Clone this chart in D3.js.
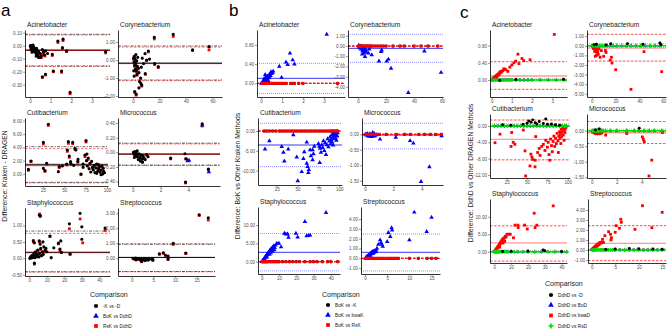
<!DOCTYPE html>
<html><head><meta charset="utf-8">
<script src="https://cdn.jsdelivr.net/npm/d3@7"></script>
<style>
body{margin:0;background:#fff}
svg{display:block}
text{font-family:"Liberation Sans",Arial,Helvetica,sans-serif}
</style>
</head><body>
<svg id="chart" width="669" height="330"></svg>
<script>
// ================= DATA =================
const facetNames = ["Acinetobacter","Corynebacterium","Cutibacterium","Micrococcus","Staphylococcus","Streptococcus"];
const aLegend = ["-K vs -D","BoK vs DdhD","RsK vs DdhD"];
const bLegend = ["BoK vs -K","BoK vs bwaK","BoK vs RsK"];
const cLegend = ["DdhD vs -D","DdhD vs BoD","DdhD vs bwaD","DdhD vs RsD"];
const aTitle = "Difference: Kraken - DRAGEN";
const bTitle = "Difference: BoK vs Other Kraken Methods";
const cTitle = "Difference: DdhD vs Other DRAGEN Methods";

const xTicks = [[0,1,2,3],[0,20,40,60],[25,50,75,100],[0,2,4],[0,10,20,30,40],[0,5,10,15]];
const aYTicks = [[0.1,0,-0.1,-0.2,-0.3],[1,0,-1,-2],[0,2,4,6,8],[0.4,0.2,0,-0.2,-0.4],[1,0.5,0,-0.5],[3,2,1,0]];
const bYTicks = [[0.8,0.4,0],[1,0,-1,-2,-3,-4],[0,-5,-10],[0,-0.5,-1,-1.5],[10,5,0],[4,3,2,1,0,-1]];
const cYTicks = [[0.8,0.4,0],[1,0,-1,-2,-3,-4,-5],[0,-4,-8,-12],[0,-0.5,-1,-1.5],[10,5,0],[4,3,2,1,0,-1]];

// ---- panel a : [mean, difference] ----
const a1K = [[0.02,0.0],[0.05,-0.01],[0.08,0.0],[0.1,-0.02],[0.12,-0.005],[0.15,-0.03],[0.18,-0.01],[0.2,-0.04],[0.22,-0.02],[0.25,-0.05],[0.28,-0.03],[0.3,-0.06],[0.32,-0.02],[0.35,-0.07],[0.38,-0.04],[0.4,-0.08],[0.42,-0.05],[0.45,-0.09],[0.5,-0.06],[0.55,-0.08],[0.6,-0.03],[0.65,-0.05],[0.7,-0.07],[0.75,-0.04],[0.05,-0.03],[0.1,-0.05],[0.15,0.005],[0.3,-0.08],[0.5,-0.09],[0.85,-0.06],[0.6,-0.24],[0.75,-0.22],[1.08,-0.066],[1.13,-0.195],[1.35,0.036],[1.57,-0.015],[1.6,0.05],[1.53,-0.195],[1.77,-0.04],[1.94,-0.36],[3.66,-0.046]];
const a1Rs = [[0.03,-0.01],[0.08,-0.02],[0.12,-0.01],[0.18,-0.03],[0.22,-0.045],[0.28,-0.04],[0.33,-0.07],[0.4,-0.09],[0.45,-0.06],[0.55,-0.09],[0.62,-0.07],[0.72,-0.08],[0.6,-0.245],[0.75,-0.225],[1.08,-0.075],[1.13,-0.2],[1.35,0.025],[1.6,0.04],[1.53,-0.205],[1.77,-0.045],[1.94,-0.37],[3.66,-0.055],[1.57,-0.025]];
const a2K = [[0.5,0.1],[0.8,-0.1],[1.0,0.2],[1.2,-0.3],[1.5,0.05],[1.8,-0.5],[2.0,-0.2],[2.2,0.3],[2.5,-0.6],[2.8,-0.05],[3.0,-0.8],[3.3,-0.35],[3.6,0.15],[4.0,-0.45],[4.5,-0.7],[1.3,-1.75],[2.4,-1.9],[0.6,-0.6],[0.9,-0.9],[1.6,-0.15],[5.0,-1.2],[5.8,-1.0],[6.0,-1.3],[6.6,-1.4],[4.5,-1.55],[6.3,-0.4],[7.0,0.1],[9.3,-0.75],[9.1,0.35],[10.3,0.0],[11.6,0.5],[16.4,-0.2],[19.1,-0.37],[16.1,1.26],[30.4,1.43],[45,0.56],[57.4,0.74],[8.0,-0.2],[12.5,0.05]];
const a2Rs = [[16.1,1.17],[30.4,1.31],[57.4,0.56],[45,0.53],[19.1,-0.42],[1.3,-1.8],[2.4,-1.95],[0.5,0.05],[1.0,0.15],[1.8,-0.55],[2.5,-0.65],[3.0,-0.85],[4.0,-0.5],[5.8,-1.05],[6.6,-1.45],[9.3,-0.8],[11.6,0.45],[10.3,-0.05],[2.0,-0.25],[3.3,-0.4],[1.2,-0.35],[16.4,-0.25]];
const a3K = [[7.8,0.7],[10.9,1.95],[25.4,4.75],[31.2,7.45],[25.4,0.85],[27.3,0.5],[29.3,1.6],[43,0.35],[44,1.1],[47.7,1.2],[52.8,1.5],[53.5,3.6],[54.7,4.85],[55.8,2.7],[57.3,1.85],[59.8,4.75],[62.5,3.85],[63.5,3.6],[65.8,1.9],[69.5,0.0],[74.2,2.85],[75.4,5.0],[58,1.5],[61,1.3],[66,2.2],[72,1.0],[76,2.0],[77,1.2],[78,2.4],[79,0.8],[80,1.6],[81,0.3],[82,1.9],[83,1.0],[84,0.6],[85,1.3],[86,0.2],[87,0.9],[88,1.5],[89,0.4],[90,0.8],[91,1.1],[92,0.3],[93,0.6],[94,1.2],[95,0.0],[95.7,0.85],[96,0.4],[97,0.2],[93,-0.1],[88,0.1],[90,1.4],[76.5,3.0],[72,1.5]];
const a3Rs = [[7.8,0.55],[10.9,1.85],[25.4,4.5],[31.2,7.3],[27.3,0.4],[29.3,1.45],[53.5,3.4],[54.7,4.6],[55.8,2.5],[59.8,4.55],[62.5,3.7],[75.4,4.8],[74.2,2.6],[69.5,-0.1],[44,0.95],[52.8,1.35],[57.3,1.7],[65.8,1.75],[80,1.45],[85,1.15],[88,1.35],[90,0.65],[94,1.05],[96,0.25],[78,2.2],[83,0.85]];
const a4K = [[0.05,0.0],[0.1,-0.02],[0.15,0.01],[0.2,-0.04],[0.25,-0.01],[0.3,-0.06],[0.35,-0.03],[0.4,-0.1],[0.45,-0.02],[0.5,-0.07],[0.55,-0.12],[0.6,-0.04],[0.65,-0.09],[0.7,-0.13],[0.75,-0.05],[0.8,-0.08],[0.9,-0.1],[1.0,-0.03],[1.1,-0.06],[0.12,-0.07],[0.32,0.02],[2.73,-0.08],[3.76,-0.02],[3.8,-0.41],[5.0,0.39],[5.44,-0.23],[3.85,-0.09]];
const a4Bo = [[3.95,-0.12],[4.05,-0.11],[5.0,0.37],[5.48,-0.27]];
const a4Rs = [[0.1,-0.03],[0.2,-0.05],[0.35,-0.04],[0.45,-0.1],[0.6,-0.05],[0.7,-0.14],[0.8,-0.09],[1.0,-0.04],[3.8,-0.09],[3.8,-0.42],[5.0,0.36],[5.44,-0.24],[2.73,-0.09]];
const a5K = [[0.3,0.0],[0.6,0.02],[0.9,0.05],[1.2,0.01],[1.5,0.08],[1.8,0.03],[2.1,0.1],[2.4,0.05],[2.7,0.15],[3.0,0.02],[3.3,0.08],[3.6,0.2],[3.9,0.04],[4.2,0.12],[4.5,0.06],[4.8,0.25],[5.1,0.1],[5.5,0.04],[6.0,0.15],[6.5,0.3],[7.0,0.08],[7.5,0.2],[8.0,0.12],[9,0.25],[10,0.2],[2.9,-0.15],[2.3,0.54],[2.9,0.47],[5.7,0.53],[6.2,0.43],[8.3,0.35],[11.8,0.68],[16.6,0.46],[18,0.53],[17.5,0.28],[18.3,0.18],[23.3,0.13],[12.5,0.02],[14,0.32],[5.7,1.32],[6.2,1.28],[22.9,1.05],[29,1.37],[30,0.96],[30,0.58],[43.3,0.92],[9.5,0.3],[7.8,0.5]];
const a5Rs = [[5.9,1.35],[6.4,1.3],[22.9,0.9],[29,1.2],[30.5,0.47],[43.3,0.85],[11.8,0.66],[16.6,0.44],[18.3,0.18],[2.3,0.5],[5.7,0.5],[3.6,0.18],[4.8,0.22],[6.5,0.27],[9,0.22],[2.9,-0.18],[23.3,0.12],[17.5,0.22]];
const a6K = [[0.3,0.0],[0.6,-0.03],[0.9,0.02],[1.2,-0.05],[1.5,-0.02],[1.8,-0.06],[2.1,-0.03],[2.3,-0.2],[2.6,-0.08],[2.9,-0.04],[3.2,-0.1],[3.5,-0.05],[3.8,-0.12],[4.1,-0.06],[4.8,-0.05],[4.9,-0.1],[6.4,0.3],[7.3,0.37],[7.8,0.2],[8.4,0.15],[8.4,-0.05],[9.6,1.0],[12.5,0.35],[15.6,2.9],[17.7,2.7],[1.0,-0.1],[2.0,-0.12],[3.0,-0.15]];
const a6Rs = [[15.6,2.85],[17.7,2.55],[9.6,0.92],[12.5,0.32],[7.3,0.33],[6.4,0.27],[4.8,-0.08],[4.9,-0.14],[3.2,-0.13],[2.3,-0.23],[8.4,-0.08],[1.5,-0.05],[0.6,-0.06]];
// mean, upper limit, lower limit
const aLimK  = [[-0.033,0.088,-0.155],[-0.17,0.78,-1.11],[1.45,4.1,-1.25],[-0.023,0.125,-0.175],[0.185,0.83,-0.41],[0.06,0.93,-0.88]];
const aLimRs = [[-0.037,0.083,-0.16],[-0.2,0.72,-1.15],[1.25,3.8,-1.33],[-0.027,0.115,-0.18],[0.17,0.76,-0.42],[0.05,0.97,-0.9]];

// ---- panel b ----
const b1Bwa = [[0.02,0.0],[0.05,0.01],[0.08,0.03],[0.1,0.02],[0.12,0.05],[0.15,0.04],[0.18,0.08],[0.2,0.06],[0.22,0.1],[0.25,0.07],[0.28,0.12],[0.3,0.09],[0.32,0.15],[0.35,0.11],[0.38,0.17],[0.4,0.13],[0.42,0.18],[0.45,0.16],[0.48,0.24],[0.5,0.2],[0.55,0.22],[0.58,0.25],[0.2,0.18],[0.25,0.14],[0.15,0.1],[0.35,0.05],[0.3,0.02],[0.87,0.35],[0.98,0.12],[1.19,0.44],[1.27,0.39],[1.38,0.625],[1.51,0.485],[1.59,0.4],[3.13,1.02]];
const b1Rs = [[0.05,0],[0.1,0],[0.15,0],[0.2,0],[0.25,0],[0.3,0],[0.35,0],[0.4,0],[0.5,0],[0.6,0],[0.7,0],[0.8,0],[0.9,0],[1.0,0],[1.1,0],[1.2,0],[1.4,0],[1.5,0],[1.6,0],[1.8,0],[2.0,0],[3.65,0]];
const b2Bwa = [[0.5,0.05],[1.0,-0.05],[1.5,0.0],[2.0,-0.1],[2.5,-0.2],[3.0,-0.15],[3.5,-0.3],[4.0,-0.4],[4.5,-0.25],[5.0,-0.55],[5.5,-0.35],[6.0,-0.6],[1.2,-0.2],[2.2,-0.3],[3.2,-0.5],[4.2,-0.7],[5,-1.05],[7.4,-0.7],[9.8,-0.88],[15,-1.48],[16.9,-0.4],[16.5,-0.55],[20.5,-1.5],[21.7,-1.3],[23.6,-2.2],[35.9,-4.58],[47.4,-0.5],[59.3,-2.6],[8,-0.3],[3,-0.8]];
const b2Rs = [[0.5,0],[1,0],[1.5,0],[2,0],[2.5,0],[3,0],[4,0],[5,0],[6,0],[7,0],[8,0],[9,0],[10,0],[12,0],[14,0],[16,0],[18,0],[20,0],[25,0],[30,0],[33,0],[40,0],[45,0],[50,0],[57,0]];
const b3Bwa = [[11,-4.6],[16.2,-2.5],[31,-3.95],[33,-5.4],[34.1,-7.6],[38.8,-4.6],[44.9,-1.0],[49,-6.6],[50.2,-12.6],[55,-10.3],[57,-7],[58,-5.3],[61,-2.85],[61,-8.2],[62,-9.0],[62.9,-10.5],[63.5,-9.8],[65,-4.8],[66,-6.3],[68,-4.8],[69,-5.8],[70,-3.9],[68,-7.3],[75,-3.2],[76,-3.9],[77,-4.4],[78,-5.4],[76.5,-8.0],[79,-3.5],[80,-4.2],[81,-2.5],[82,-5.0],[83,-3.0],[84,-6.0],[85,-3.5],[86,-2.0],[87,-4.0],[88,-2.6],[89,-1.5],[89.5,-3.3],[90,-2.2],[91,-1.0],[91.5,-2.8],[92,-1.6],[93,-0.6],[93.5,-2.0],[94,-1.2],[95,-0.4],[95.5,-1.8],[96,-0.8],[97,-0.3],[97.5,-1.3],[98,-0.5],[96.5,-2.4],[92.5,-3.6],[94.5,-0.9]];
const b3Rs = [[10,0],[13,0],[16,0],[20,0],[24,0],[28,0],[31,0],[34,0],[37,0],[40,0],[43,0],[46,0],[49,0],[52,0],[55,0],[58,0],[61,0],[64,0],[67,0],[70,0],[73,0],[76,0],[79,0],[82,0],[85,0],[88,0],[90,0],[92,0],[94,0],[96,0],[98,0]];
const b4Bwa = [[0.05,0.0],[0.1,-0.03],[0.15,0.02],[0.2,-0.05],[0.25,-0.02],[0.3,-0.07],[0.35,0.01],[0.4,-0.04],[0.45,-0.08],[0.5,-0.03],[0.55,0.05],[0.6,-0.06],[0.65,0.02],[0.7,-0.05],[0.8,-0.02],[1.06,-0.16],[2.17,-0.1],[3.18,-0.21],[3.41,-0.29],[3.95,-1.53],[4.54,-1.05],[5.4,-0.05]];
const b4Rs = [[0.05,0],[0.1,0],[0.2,0],[0.3,0],[0.4,0],[0.5,0],[0.6,0],[0.7,0],[0.8,0],[1.0,0],[1.5,0],[2.2,0],[2.8,0],[3.2,0],[3.8,0],[4.2,0],[4.6,0],[5.0,0],[5.4,0]];
const b5Bwa = [[0.2,0.0],[0.5,0.2],[0.8,0.4],[1.0,0.5],[1.3,0.7],[1.5,0.9],[1.8,1.0],[2.0,1.2],[2.3,1.4],[2.5,1.5],[2.8,1.7],[3.0,1.9],[3.2,2.0],[3.5,2.2],[3.8,2.4],[4.0,2.5],[4.3,2.7],[4.5,2.9],[4.8,3.0],[5.0,3.2],[5.5,3.5],[6.0,3.7],[6.5,4.0],[7.0,4.3],[7.5,3.8],[8.0,4.5],[8.8,5.0],[10,5.0],[11.2,4.0],[6.2,2.8],[5.2,2.4],[3.0,1.2],[4.5,2.0],[7.3,3.2],[13.1,7.7],[14,7.5],[15,7.5],[15.5,6.6],[19.8,7.7],[20.8,6.7],[25,10.9],[26,7.0],[27,7.1],[28,7.2],[37.2,13.35]];
const b5Rs = [[0.2,0],[0.5,0],[1,0],[1.5,0],[2,0],[2.5,0],[3,0],[4,0],[5,0],[6,0],[7,0],[8,0],[9,0],[10,0],[12,0],[14,0],[16,0],[18,0],[20,0],[22,0],[25,0],[28,0],[30,0],[32,0],[35,0],[38,0],[40,0],[44,0]];
const b6Bwa = [[0.1,0.0],[0.2,0.05],[0.3,0.1],[0.4,0.15],[0.5,0.12],[0.6,0.2],[0.7,0.25],[0.8,0.3],[0.9,0.22],[1.0,0.35],[1.1,0.4],[1.2,0.3],[1.3,0.5],[1.4,0.45],[1.5,0.6],[1.6,0.55],[1.7,0.65],[1.8,0.5],[1.9,0.7],[2.0,0.6],[2.2,0.75],[2.4,0.65],[2.5,0.8],[2.7,1.0],[3.0,1.4],[3.4,1.86],[3.6,1.6],[3.8,1.4],[4.0,1.2],[5,1.7],[5.26,2.6],[5.7,2.2],[6,3.1],[6.1,2.85],[10,1.86],[11.1,4.68],[13.9,2.7],[15,4.17]];
const b6Rs = [[0.1,0],[0.3,0],[0.5,0],[0.8,0],[1,0],[1.3,0],[1.6,0],[2,0],[2.5,0],[3,0],[3.5,0],[4,0],[4.5,0],[5,0],[5.5,0],[6,0],[6.5,0],[7,0],[7.5,0],[10,0],[12,0],[14,0],[15,0],[16,0]];
const bLimBwa = [[0.104,0.417,-0.21],[-0.23,1.15,-1.6],[-3.54,1.94,-9.0],[-0.025,0.355,-0.47],[2.56,7.7,-2.5],[0.61,2.47,-1.29]];
const bLimRs  = [[0,0,0],[0,0,0],[0,0,0],[0,0,0],[0,0,0],[0,0,0]];

// ---- panel c ----
const c1Bwa = [[0.02,0.0],[0.05,0.02],[0.08,0.03],[0.1,0.05],[0.12,0.04],[0.15,0.07],[0.18,0.06],[0.2,0.09],[0.22,0.08],[0.25,0.11],[0.28,0.1],[0.3,0.13],[0.33,0.12],[0.35,0.15],[0.38,0.14],[0.4,0.18],[0.43,0.17],[0.45,0.2],[0.5,0.19],[0.55,0.22],[0.6,0.26],[0.65,0.25],[0.7,0.24],[0.8,0.2],[0.9,0.3],[1.0,0.35],[1.1,0.4],[1.19,0.44],[1.3,0.6],[1.35,0.38],[1.5,0.5],[1.59,0.45],[1.9,0.47],[3.1,1.06],[0.25,0.04],[0.15,0.02]];
const c1K  = [[3.55,0.02],[0.4,-0.01],[1.2,0.01]];
const c1Rs = [[0.02,0],[0.1,0],[0.2,0],[0.3,0],[0.4,0],[0.5,0],[0.6,0],[0.7,0],[0.8,0],[0.9,0],[1.0,0],[1.2,0],[1.4,0],[1.6,0],[1.8,0],[2.0,0],[2.4,0],[2.8,0],[3.2,0],[3.6,0]];
const c2Bwa = [[0.5,0.0],[1.0,-0.1],[1.5,0.05],[2.0,-0.15],[2.5,-0.3],[3.0,-0.2],[3.5,-0.5],[4.0,-0.4],[4.5,-0.7],[3.0,-1.1],[4.0,-1.0],[5.0,-0.6],[5.5,-0.9],[6.0,-0.3],[8.0,-0.5],[10.0,-1.1],[11.5,-0.5],[12.0,-0.7],[15.5,-1.5],[16.5,-1.2],[17.0,-1.8],[20.1,-2.5],[32.9,-4.54],[43.8,-0.62],[58.6,-2.7],[1.5,-0.3],[2.5,-0.6],[7,-1.2]];
const c2K  = [[2,0.1],[4,0.15],[12,0.08],[16,0.2],[30,0.22],[43,0.15],[57,0.28],[58,0.12]];
const c2Rs = [[0.5,0],[1.5,0],[3,0],[5,0],[7,0],[9,0],[11,0],[13,0],[15,0],[18,0],[21,0],[25,0],[29,0],[33,0],[37,0],[41,0],[45,0],[49,0],[53,0],[57,0]];
const c3Bwa = [[10.6,-4.1],[16.7,-2.0],[30.3,-5.0],[31.1,-1.6],[33,-4.0],[35,-4.5],[45.4,-1.0],[47.5,-6.1],[48.3,-12.25],[53.6,-9.8],[54.7,-6.9],[56,-7.6],[57,-8.2],[59.8,-10],[60,-8.4],[60.6,-2.6],[63,-6.5],[65,-5.5],[66,-7.2],[68,-5.0],[70,-4.5],[72,-6.0],[73,-3.5],[75,-5.2],[76,-4.0],[77,-7.0],[78,-8.4],[79,-3.2],[80,-4.8],[81,-6.3],[82,-3.8],[83,-2.5],[84,-5.0],[85,-3.0],[86,-4.3],[87,-1.8],[88,-3.6],[89,-2.5],[90,-1.4],[90.5,-3.0],[91,-2.0],[92,-0.8],[92.5,-2.6],[93,-1.5],[94,-0.6],[94.5,-2.2],[95,-1.0],[96,-0.4],[96.5,-1.6],[97,-0.8],[98,-0.3],[95.5,-3.5],[91.5,-4.3],[88.5,-6.5]];
const c3K  = [[50,0.66],[52,1.2],[55,0.9],[57,1.5],[60,0.8],[62,0.5],[65,1.1],[70,0.6],[73,1.7],[75,0.4],[80,0.5],[85,0.3],[90,0.2],[45,0.4],[30,0.2],[20,0.3]];
const c3Rs = [[10,0],[14,0],[18,0],[22,0],[26,0],[30,0],[34,0],[38,0],[42,0],[46,0],[50,0],[54,0],[58,0],[62,0],[66,0],[70,0],[74,0],[78,0],[82,0],[86,0],[90,0],[93,0],[96,0],[98,0]];
const c4Bwa = [[0.05,-0.02],[0.1,-0.05],[0.15,-0.03],[0.2,-0.07],[0.25,-0.04],[0.3,-0.09],[0.35,-0.05],[0.4,-0.1],[0.45,-0.06],[0.5,-0.08],[0.55,-0.03],[0.6,-0.1],[0.65,-0.06],[0.7,-0.09],[0.75,-0.05],[0.8,-0.07],[0.6,0.05],[1.12,-0.14],[2.8,-0.09],[4.13,-0.28],[4.2,-0.35],[4.05,-0.2],[4.58,-1.46],[4.8,-0.95],[5.65,-0.06]];
const c4K  = [[0.6,0.06],[3.8,0.08],[0.3,0.02]];
const c4Rs = [[0.05,0],[0.15,0],[0.25,0],[0.35,0],[0.45,0],[0.55,0],[0.65,0],[0.75,0],[0.9,0],[1.1,0],[1.5,0],[2.0,0],[2.8,0],[3.4,0],[3.8,0],[4.2,0],[4.6,0],[5.0,0],[5.6,0]];
const c5Bwa = [[0.2,0.1],[0.5,0.3],[0.8,0.5],[1.0,0.6],[1.3,0.8],[1.5,1.0],[1.8,1.1],[2.0,1.3],[2.3,1.5],[2.5,1.6],[2.8,1.9],[3.0,2.0],[3.3,2.2],[3.5,2.4],[3.8,2.6],[4.0,2.8],[4.3,3.0],[4.5,3.2],[4.8,3.4],[5.0,3.6],[5.5,3.8],[6.0,4.0],[6.5,4.4],[7.0,4.2],[7.5,5.0],[8.5,5.0],[9.5,5.0],[11.4,4.0],[5.2,2.5],[3.2,1.3],[6.2,3.0],[12.3,7.6],[14,7.6],[14.2,6.9],[18,7.6],[19.6,6.5],[23.7,11],[24.2,6.9],[25.3,7.6],[35,13.1]];
const c5K  = [[29,0.5],[30,0.3],[20,0.2],[10,0.15],[5,0.1],[40,0.1]];
const c5Rs = [[0.2,0],[0.6,0],[1,0],[1.5,0],[2,0],[2.5,0],[3,0],[4,0],[5,0],[6,0],[7,0],[8,0],[10,0],[12,0],[14,0],[17,0],[20,0],[24,0],[28,0],[32,0],[36,0],[40,0],[43,0]];
const c6Bwa = [[0.1,0.05],[0.2,0.1],[0.3,0.15],[0.4,0.2],[0.5,0.18],[0.6,0.28],[0.7,0.3],[0.8,0.38],[0.9,0.32],[1.0,0.45],[1.1,0.5],[1.2,0.4],[1.3,0.55],[1.4,0.6],[1.5,0.52],[1.6,0.68],[1.7,0.62],[1.8,0.75],[2.0,0.7],[2.2,0.8],[2.3,1.07],[2.5,0.75],[2.8,1.43],[3.6,1.83],[4.0,1.57],[4.2,1.23],[4.1,1.0],[5,1.77],[5.2,2.43],[5.9,2.17],[6.2,3.07],[6.3,2.77],[9.2,2.07],[10.8,4.43],[12.8,2.23],[15,3.77]];
const c6K  = [[5,0.1],[8,0.15],[10,0.12],[13,0.1],[15,0.08],[3,0.05]];
const c6Rs = [[0.1,0],[0.4,0],[0.7,0],[1,0],[1.4,0],[1.8,0],[2.2,0],[2.6,0],[3,0],[3.5,0],[4,0],[4.5,0],[5,0],[6,0],[7,0],[8,0],[9,0],[10,0],[11,0],[12,0],[13,0],[14,0],[15,0]];
const cLimBwa = [[0.093,0.426,-0.217],[-0.25,1.19,-1.6],[-3.27,1.47,-8.3],[-0.065,0.3,-0.41],[2.57,7.4,-2.66],[0.67,2.43,-1.07]];
const cLimK   = [[0.005,0.03,-0.02],[0.03,0.2,-0.15],[0.2,0.55,-0.15],[0.005,0.05,-0.04],[0.05,0.35,-0.25],[0.02,0.15,-0.1]];

// ================= LAYOUT =================
const svg = d3.select("#chart");
const RED = "#ff0000", BLUE = "#0000ff", BLACK = "#000000", GREEN = "#00e000";
let clipN = 0;

function drawFacet(p) {
  const g = svg.append("g");
  const x = d3.scaleLinear().domain(p.xd).range([p.L, p.R]);
  const y = d3.scaleLinear().domain(p.yd).range([p.B, p.T]);
  g.append("text").attr("x", p.L + 2).attr("y", p.T - 3).attr("font-size", 6.6).attr("fill", "#1a1a1a").text(p.title);
  const id = "clip" + (clipN++);
  svg.append("clipPath").attr("id", id).append("rect")
    .attr("x", p.L).attr("y", p.T - 2).attr("width", p.R - p.L + 3).attr("height", p.B - p.T + 2);
  const inner = g.append("g").attr("clip-path", `url(#${id})`);
  p.lines.forEach(l => {
    inner.append("line").attr("x1", p.L).attr("x2", p.R).attr("y1", y(l.v)).attr("y2", y(l.v))
      .attr("stroke", l.c).attr("stroke-width", l.w).attr("stroke-dasharray", l.d || null)
      .attr("opacity", l.o == null ? 1 : l.o);
  });
  p.series.forEach(s => {
    const sym = d3.symbol().type(s.type).size(s.size);
    inner.append("g").selectAll("path").data(s.data).join("path")
      .attr("d", sym)
      .attr("transform", d => `translate(${x(d[0])},${y(d[1])})`)
      .attr("fill", s.c);
  });
  const fmtY = d => d3.format(".2f")(d).replace("\u2212", "-");
  const xa = g.append("g").attr("transform", `translate(0,${p.B})`)
    .call(d3.axisBottom(x).tickValues(p.xt).tickSize(2).tickSizeOuter(0).tickPadding(1).tickFormat(d3.format("d")));
  const ya = g.append("g").attr("transform", `translate(${p.L},0)`)
    .call(d3.axisLeft(y).tickValues(p.yt).tickSize(2).tickSizeOuter(0).tickPadding(1).tickFormat(fmtY));
  [xa, ya].forEach(a => {
    a.select(".domain").attr("stroke", "#000").attr("stroke-width", 0.8);
    a.selectAll(".tick line").attr("stroke", "#333").attr("stroke-width", 0.5);
    a.selectAll("text").attr("font-size", 4.6).attr("fill", "#4d4d4d")
      .attr("font-family", '"Liberation Sans", Arial, sans-serif');
  });
}

function lim3(arr, c, wMean, dMean, wLim, dLim, oMean, oLim) {
  return [
    {v: arr[1], c, w: wLim, d: dLim, o: oLim},
    {v: arr[2], c, w: wLim, d: dLim, o: oLim},
    {v: arr[0], c, w: wMean, d: dMean, o: oMean}
  ];
}

const SYM = {circle: d3.symbolCircle, tri: d3.symbolTriangle, sq: d3.symbolSquare, cross: d3.symbolCross};

// pixel boxes + domains
const boxesA = [
  {L:25, R:110, T:30, B:97, xd:[-0.24,3.87], yd:[-0.395,0.121]},
  {L:118, R:222, T:30, B:97, xd:[-11.3,67.2], yd:[-2.056,1.667]},
  {L:25, R:108, T:118, B:186, xd:[3.87,101.2], yd:[-1.8,8.4]},
  {L:118, R:220, T:118, B:186, xd:[-1.06,6.28], yd:[-0.462,0.47]},
  {L:25, R:110, T:208, B:276, xd:[-2.46,46.1], yd:[-0.54,1.533]},
  {L:118, R:215, T:208, B:276, xd:[-3.16,19.25], yd:[-1.18,3.35]}
];
const boxesB = [
  {L:257, R:345, T:30, B:97, xd:[-0.19,4.0], yd:[-0.285,1.11]},
  {L:348, R:443, T:30, B:97, xd:[-7.14,60.7], yd:[-5.0,1.57]},
  {L:258, R:342, T:118, B:185, xd:[2.6,103.2], yd:[-13.64,3.28]},
  {L:362, R:443, T:118, B:185, xd:[-0.21,5.5], yd:[-1.636,0.526]},
  {L:258, R:340, T:207, B:274, xd:[-2.14,45.3], yd:[-3.35,14.9]},
  {L:361, R:440, T:207, B:274, xd:[-0.9,16.9], yd:[-1.6,5.22]}
];
const boxesC = [
  {L:490, R:567, T:30, B:97, xd:[-0.084,3.73], yd:[-0.395,1.163]},
  {L:587, R:666, T:30, B:97, xd:[-3.94,62.2], yd:[-5.34,1.64]},
  {L:490, R:570, T:114, B:178, xd:[4.43,102.8], yd:[-12.75,2.94]},
  {L:587, R:666, T:114, B:178, xd:[-0.376,5.94], yd:[-1.526,0.54]},
  {L:490, R:567, T:199, B:263, xd:[-2.55,43.2], yd:[-3.2,15.06]},
  {L:588, R:666, T:199, B:263, xd:[-0.79,15.81], yd:[-1.3,5.1]}
];

const aK = [a1K,a2K,a3K,a4K,a5K,a6K];
const aBo = [[],[],[],a4Bo,[],[]];
const aRs = [a1Rs,a2Rs,a3Rs,a4Rs,a5Rs,a6Rs];
const bBwa = [b1Bwa,b2Bwa,b3Bwa,b4Bwa,b5Bwa,b6Bwa];
const bRs = [b1Rs,b2Rs,b3Rs,b4Rs,b5Rs,b6Rs];
const cBwa = [c1Bwa,c2Bwa,c3Bwa,c4Bwa,c5Bwa,c6Bwa];
const cK = [c1K,c2K,c3K,c4K,c5K,c6K];
const cRs = [c1Rs,c2Rs,c3Rs,c4Rs,c5Rs,c6Rs];

facetNames.forEach((name, i) => {
  // panel a
  drawFacet(Object.assign({title: name, xt: xTicks[i], yt: aYTicks[i],
    lines: [].concat(
      lim3(aLimRs[i], RED, 0.9, null, 0.6, "2.5,1.5", 1, 1),
      lim3(aLimK[i], BLACK, 0.9, null, 0.6, "3,1.2,1,1.2", 1, 1)),
    series: [
      {data: aRs[i], type: SYM.sq, size: 8, c: RED},
      {data: aBo[i], type: SYM.tri, size: 9, c: BLUE},
      {data: aK[i], type: SYM.circle, size: 8, c: BLACK}
    ]}, boxesA[i]));
  // panel b
  drawFacet(Object.assign({title: name, xt: xTicks[i], yt: bYTicks[i],
    lines: [].concat(
      lim3(bLimBwa[i], BLUE, 0.8, null, 0.8, "1,1", 1, 0.55),
      lim3(bLimRs[i], RED, 0.8, "2.5,1.5", 0.8, "2.5,1.5", 1, 1)),
    series: [
      {data: bRs[i], type: SYM.circle, size: 8, c: BLACK},
      {data: bBwa[i], type: SYM.tri, size: 9, c: BLUE},
      {data: bRs[i], type: SYM.sq, size: 8, c: RED}
    ]}, boxesB[i]));
  // panel c
  drawFacet(Object.assign({title: name, xt: xTicks[i], yt: cYTicks[i],
    lines: [].concat(
      lim3(cLimBwa[i], RED, 1.3, null, 0.8, "2.5,1.5", 0.4, 0.9),
      lim3(cLimK[i], BLACK, 0.5, "1,1", 0.5, "1,1", 0.8, 0.6),
      [{v: 0, c: GREEN, w: 1.6, d: null, o: 1}]),
    series: [
      {data: cBwa[i], type: SYM.sq, size: 8, c: RED},
      {data: cRs[i], type: SYM.tri, size: 6, c: BLUE},
      {data: cRs[i], type: SYM.cross, size: 9, c: GREEN},
      {data: cK[i], type: SYM.circle, size: 7, c: BLACK}
    ]}, boxesC[i]));
});

// y axis titles
[[aTitle, 7, 176], [bTitle, 240, 176], [cTitle, 473, 173]].forEach(([t, x, y]) => {
  svg.append("text").attr("transform", `translate(${x},${y}) rotate(-90)`)
    .attr("text-anchor", "middle").attr("font-size", 6.8).attr("fill", "#1a1a1a").text(t);
});

// panel letters
[["a", 1, 16], ["b", 229, 16], ["c", 460, 18]].forEach(([t, x, y]) => {
  svg.append("text").attr("x", x).attr("y", y).attr("font-size", 17)
    .attr("font-family", '"Liberation Serif", "Times New Roman", serif').attr("fill", "#000").text(t);
});

// legends
function legend(x0, yTitle, items, marks, rows) {
  svg.append("text").attr("x", x0).attr("y", yTitle).attr("font-size", 7).attr("fill", "#1a1a1a").text("Comparison");
  items.forEach((lab, i) => {
    const mx = x0 + 6, my = rows[i];
    svg.append("path").attr("d", d3.symbol().type(marks[i].t).size(marks[i].s)())
      .attr("transform", `translate(${mx},${my})`).attr("fill", marks[i].c);
    svg.append("text").attr("x", mx + 7).attr("y", my + 1.7).attr("font-size", 4.8).attr("fill", "#1a1a1a").text(lab);
  });
}
legend(90, 297, aLegend, [{t:SYM.circle,s:14,c:BLACK},{t:SYM.tri,s:14,c:BLUE},{t:SYM.sq,s:14,c:RED}], [306,316,326]);
legend(322, 297, bLegend, [{t:SYM.circle,s:14,c:BLACK},{t:SYM.tri,s:14,c:BLUE},{t:SYM.sq,s:14,c:RED}], [305,315,325]);
legend(545, 286, cLegend, [{t:SYM.circle,s:14,c:BLACK},{t:SYM.tri,s:14,c:BLUE},{t:SYM.sq,s:14,c:RED},{t:SYM.cross,s:14,c:GREEN}], [295,305,315.5,326]);
</script>
</body></html>
